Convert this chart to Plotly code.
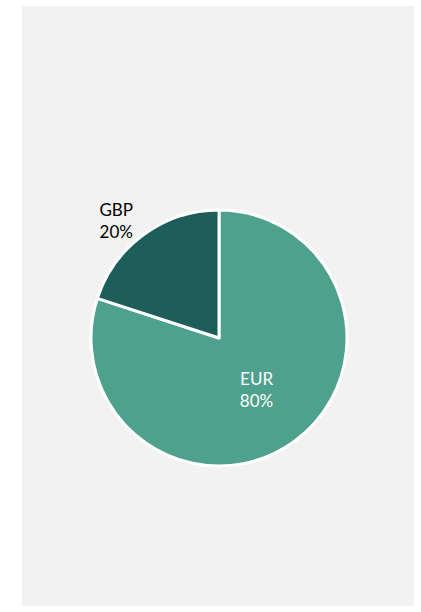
import plotly.graph_objects as go

# Currency split
currencies = ["EUR", "GBP"]
shares = [80, 20]
slice_colors = ["#4ea18c", "#1d5e5a"]
text_positions = ["inside", "outside"]

W, H = 421, 612

fig = go.Figure(
    go.Pie(
        labels=currencies,
        values=shares,
        sort=False,
        direction="clockwise",
        rotation=0,
        marker=dict(colors=slice_colors, line=dict(color="#ffffff", width=3)),
        textinfo="label+percent",
        textposition=text_positions,
        insidetextfont=dict(color="#ffffff", size=17),
        outsidetextfont=dict(color="#000000", size=17),
        insidetextorientation="horizontal",
        automargin=False,
        showlegend=False,
        hoverinfo="label+percent",
        domain=dict(x=[0.2162, 0.8242], y=[0.2386, 0.6569]),
    )
)

fig.update_layout(
    width=W,
    height=H,
    margin=dict(l=0, r=0, t=0, b=0, autoexpand=False),
    paper_bgcolor="#ffffff",
    font=dict(family="Lato, 'Open Sans', sans-serif", size=17, color="#000000"),
    shapes=[
        dict(
            type="rect",
            xref="paper",
            yref="paper",
            x0=22 / W,
            x1=414 / W,
            y0=6 / H,
            y1=606 / H,
            fillcolor="#f2f2f2",
            line=dict(width=0),
            layer="below",
        )
    ],
)

fig.write_html("out.html")
